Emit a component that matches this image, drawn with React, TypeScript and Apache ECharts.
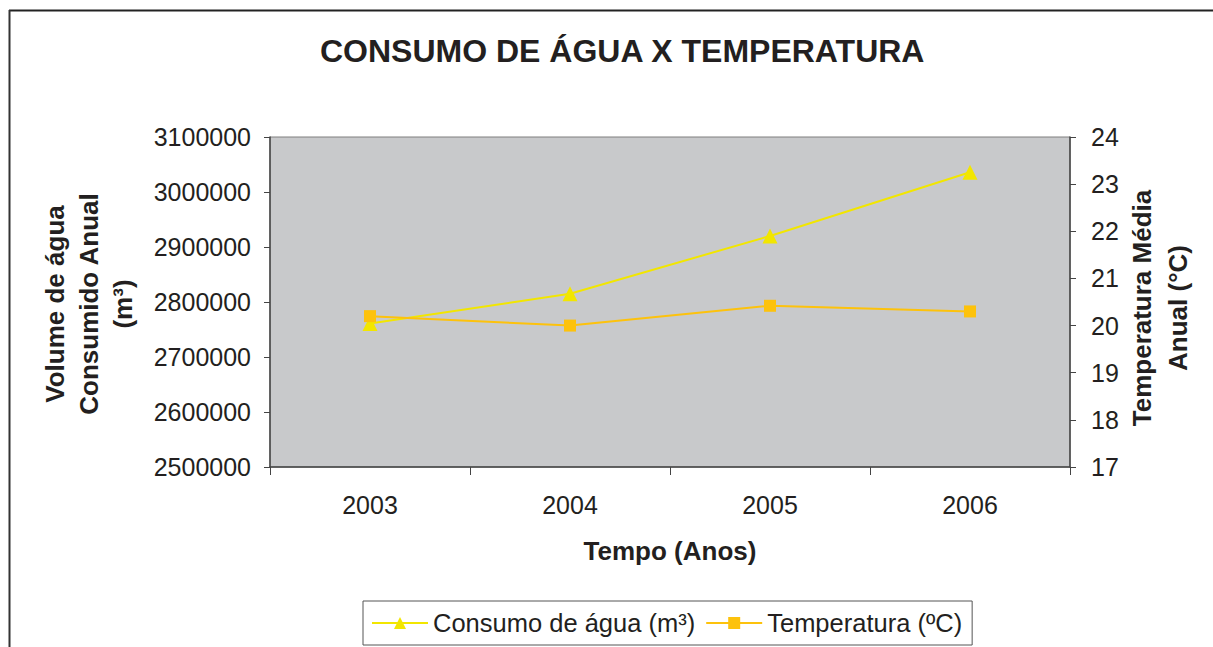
import React, { useEffect, useRef } from "react";
import * as echarts from "echarts";

const years = ["2003", "2004", "2005", "2006"];
const consumo = [2761000, 2815000, 2920000, 3036000];
const temperatura = [20.2, 20.0, 20.42, 20.3];
const titleText = "CONSUMO DE ÁGUA X TEMPERATURA";
const leftAxisTitle = "Volume de água\nConsumido Anual\n(m³)";
const rightAxisTitle = "Temperatura Média\nAnual (°C)";
const xAxisTitle = "Tempo (Anos)";
const seriesNames = ["Consumo de água (m³)", "Temperatura (ºC)"];

const FONT = "'Liberation Sans', Arial, sans-serif";
const TXT = "#231f20";

export default function App() {
  const ref = useRef<HTMLDivElement>(null);
  useEffect(() => {
    if (!ref.current) return;
    const chart = echarts.init(ref.current, undefined, { renderer: "svg" });
    chart.setOption({
      animation: false,
      backgroundColor: "#ffffff",
      textStyle: { fontFamily: FONT, color: TXT },
      title: {
        text: titleText,
        left: 315,
        top: 30,
        itemGap: 0,
        textStyle: { fontFamily: FONT, fontSize: 32, fontWeight: "bold", color: TXT },
      },
      grid: {
        left: 270,
        right: 143,
        top: 137,
        bottom: 180,
        show: true,
        backgroundColor: "#c8c9cb",
        borderColor: "#7f7f7f",
        borderWidth: 1,
      },
      legend: {
        bottom: 2,
        left: 363,
        padding: [9, 10, 9, 8],
        borderColor: "#555555",
        borderWidth: 1,
        backgroundColor: "#ffffff",
        itemWidth: 56,
        itemHeight: 15,
        itemGap: 10,
        textStyle: { fontFamily: FONT, fontSize: 25.5, color: TXT },
        data: seriesNames,
      },
      xAxis: {
        type: "category",
        data: years,
        boundaryGap: true,
        name: xAxisTitle,
        nameLocation: "middle",
        nameGap: 71,
        nameTextStyle: { fontFamily: FONT, fontSize: 26, fontWeight: "bold", color: TXT },
        axisLine: { lineStyle: { color: "#444444", width: 1.5 } },
        axisTick: { show: true, length: 8, lineStyle: { color: "#444444" } },
        axisLabel: { fontFamily: FONT, fontSize: 25, color: TXT, margin: 25 },
        splitLine: { show: false },
      },
      yAxis: [
        {
          type: "value",
          min: 2500000,
          max: 3100000,
          interval: 100000,
          position: "left",
          axisLine: { show: true, lineStyle: { color: "#444444", width: 1.5 } },
          axisTick: { show: true, length: 6, lineStyle: { color: "#444444" } },
          axisLabel: {
            fontFamily: FONT,
            fontSize: 25,
            color: TXT,
            margin: 19,
            formatter: (v: number) => String(v),
          },
          splitLine: { show: false },
        },
        {
          type: "value",
          min: 17,
          max: 24,
          interval: 1,
          position: "right",
          axisLine: { show: true, lineStyle: { color: "#444444", width: 1.5 } },
          axisTick: { show: true, length: 6, lineStyle: { color: "#444444" } },
          axisLabel: { fontFamily: FONT, fontSize: 25, color: TXT, margin: 21 },
          splitLine: { show: false },
        },
      ],
      series: [
        {
          name: seriesNames[0],
          type: "line",
          yAxisIndex: 0,
          data: consumo,
          symbol: "triangle",
          symbolSize: 15,
          itemStyle: { color: "#f2e600" },
          lineStyle: { color: "#f2e600", width: 2 },
        },
        {
          name: seriesNames[1],
          type: "line",
          yAxisIndex: 1,
          data: temperatura,
          symbol: "rect",
          symbolSize: 12,
          itemStyle: { color: "#fdc20c" },
          lineStyle: { color: "#fdc20c", width: 2 },
        },
      ],
      graphic: [
        { type: "line", shape: { x1: 9, y1: 10.5, x2: 1213, y2: 10.5 }, style: { stroke: "#222222", lineWidth: 2 } },
        { type: "line", shape: { x1: 9.5, y1: 10, x2: 9.5, y2: 647 }, style: { stroke: "#333333", lineWidth: 2 } },
        {
          type: "text",
          x: 89,
          y: 304,
          rotation: Math.PI / 2,
          style: {
            text: leftAxisTitle,
            font: `bold 26px ${FONT}`,
            fill: TXT,
            align: "center",
            verticalAlign: "middle",
            lineHeight: 34,
          },
        },
        {
          type: "text",
          x: 1160,
          y: 308,
          rotation: Math.PI / 2,
          style: {
            text: rightAxisTitle,
            font: `bold 26px ${FONT}`,
            fill: TXT,
            align: "center",
            verticalAlign: "middle",
            lineHeight: 36,
          },
        },
      ],
    });
    return () => chart.dispose();
  }, []);
  return (
    <div
      ref={ref}
      style={{ position: "fixed", left: 0, top: 0, width: 1213, height: 647 }}
    />
  );
}
